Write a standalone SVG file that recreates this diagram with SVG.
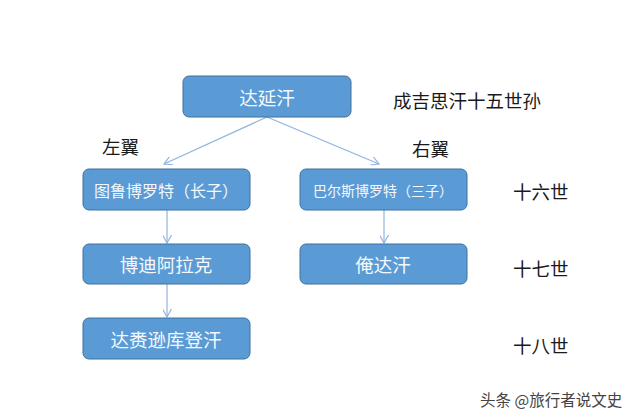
<svg xmlns="http://www.w3.org/2000/svg" width="640" height="419" viewBox="0 0 640 419">
<defs>
<style>
.box{fill:#5b9bd5;stroke:#41719c;stroke-width:1}
.bt{fill:#f4f8fc;font-family:"Noto Sans CJK SC","Liberation Sans",sans-serif;text-anchor:middle;dominant-baseline:central}
.lbl{fill:#1a1a1a;font-family:"Noto Sans CJK SC","Liberation Sans",sans-serif;font-size:18.5px;dominant-baseline:central}
.con{stroke:#8fb4de;stroke-width:1.2;fill:none}
</style>
<marker id="ah" viewBox="0 0 10 10" refX="9" refY="5" markerWidth="9" markerHeight="9" orient="auto" markerUnits="userSpaceOnUse">
<path d="M0,0 L9,5 L0,10" fill="none" stroke="#8fb4de" stroke-width="1.3"/>
</marker>
</defs>
<rect width="640" height="419" fill="#ffffff"/>
<g id="connectors">
<line class="con" x1="267" y1="117" x2="164" y2="164" marker-end="url(#ah)"/>
<line class="con" x1="267" y1="117" x2="379" y2="164" marker-end="url(#ah)"/>
<line class="con" x1="167" y1="210" x2="167" y2="243" marker-end="url(#ah)"/>
<line class="con" x1="384" y1="210" x2="384" y2="243" marker-end="url(#ah)"/>
<line class="con" x1="167" y1="284" x2="167" y2="317" marker-end="url(#ah)"/>
</g>
<g id="n-dayan">
<rect class="box" x="183" y="76" width="168" height="41" rx="6"/>
<text class="bt" x="267" y="97" font-size="18.5">达延汗</text>
</g>
<g id="n-tulu">
<rect class="box" x="83" y="169" width="167" height="41" rx="6"/>
<text class="bt" x="166" y="189.5" font-size="16">图鲁博罗特（长子）</text>
</g>
<g id="n-baers">
<rect class="box" x="300" y="169" width="167" height="41" rx="6"/>
<text class="bt" x="383" y="190" font-size="14">巴尔斯博罗特（三子）</text>
</g>
<g id="n-bodi">
<rect class="box" x="83" y="244" width="167" height="40" rx="6"/>
<text class="bt" x="166" y="264" font-size="18.5">博迪阿拉克</text>
</g>
<g id="n-anda">
<rect class="box" x="300" y="244" width="167" height="40" rx="6"/>
<text class="bt" x="383" y="264" font-size="18.5">俺达汗</text>
</g>
<g id="n-dalai">
<rect class="box" x="83" y="318" width="167" height="41" rx="6"/>
<text class="bt" x="166" y="339" font-size="18.5">达赉逊库登汗</text>
</g>
<g id="labels">
<text class="lbl" x="102" y="146">左翼</text>
<text class="lbl" x="412" y="148">右翼</text>
<text class="lbl" x="393" y="100">成吉思汗十五世孙</text>
<text class="lbl" x="513" y="191">十六世</text>
<text class="lbl" x="513" y="268">十七世</text>
<text class="lbl" x="513" y="345">十八世</text>
<text x="480" y="399" fill="#444444" font-family="Noto Sans CJK SC,Liberation Sans,sans-serif" font-size="15.5" dominant-baseline="central">头条 @旅行者说文史</text>
</g>
</svg>
